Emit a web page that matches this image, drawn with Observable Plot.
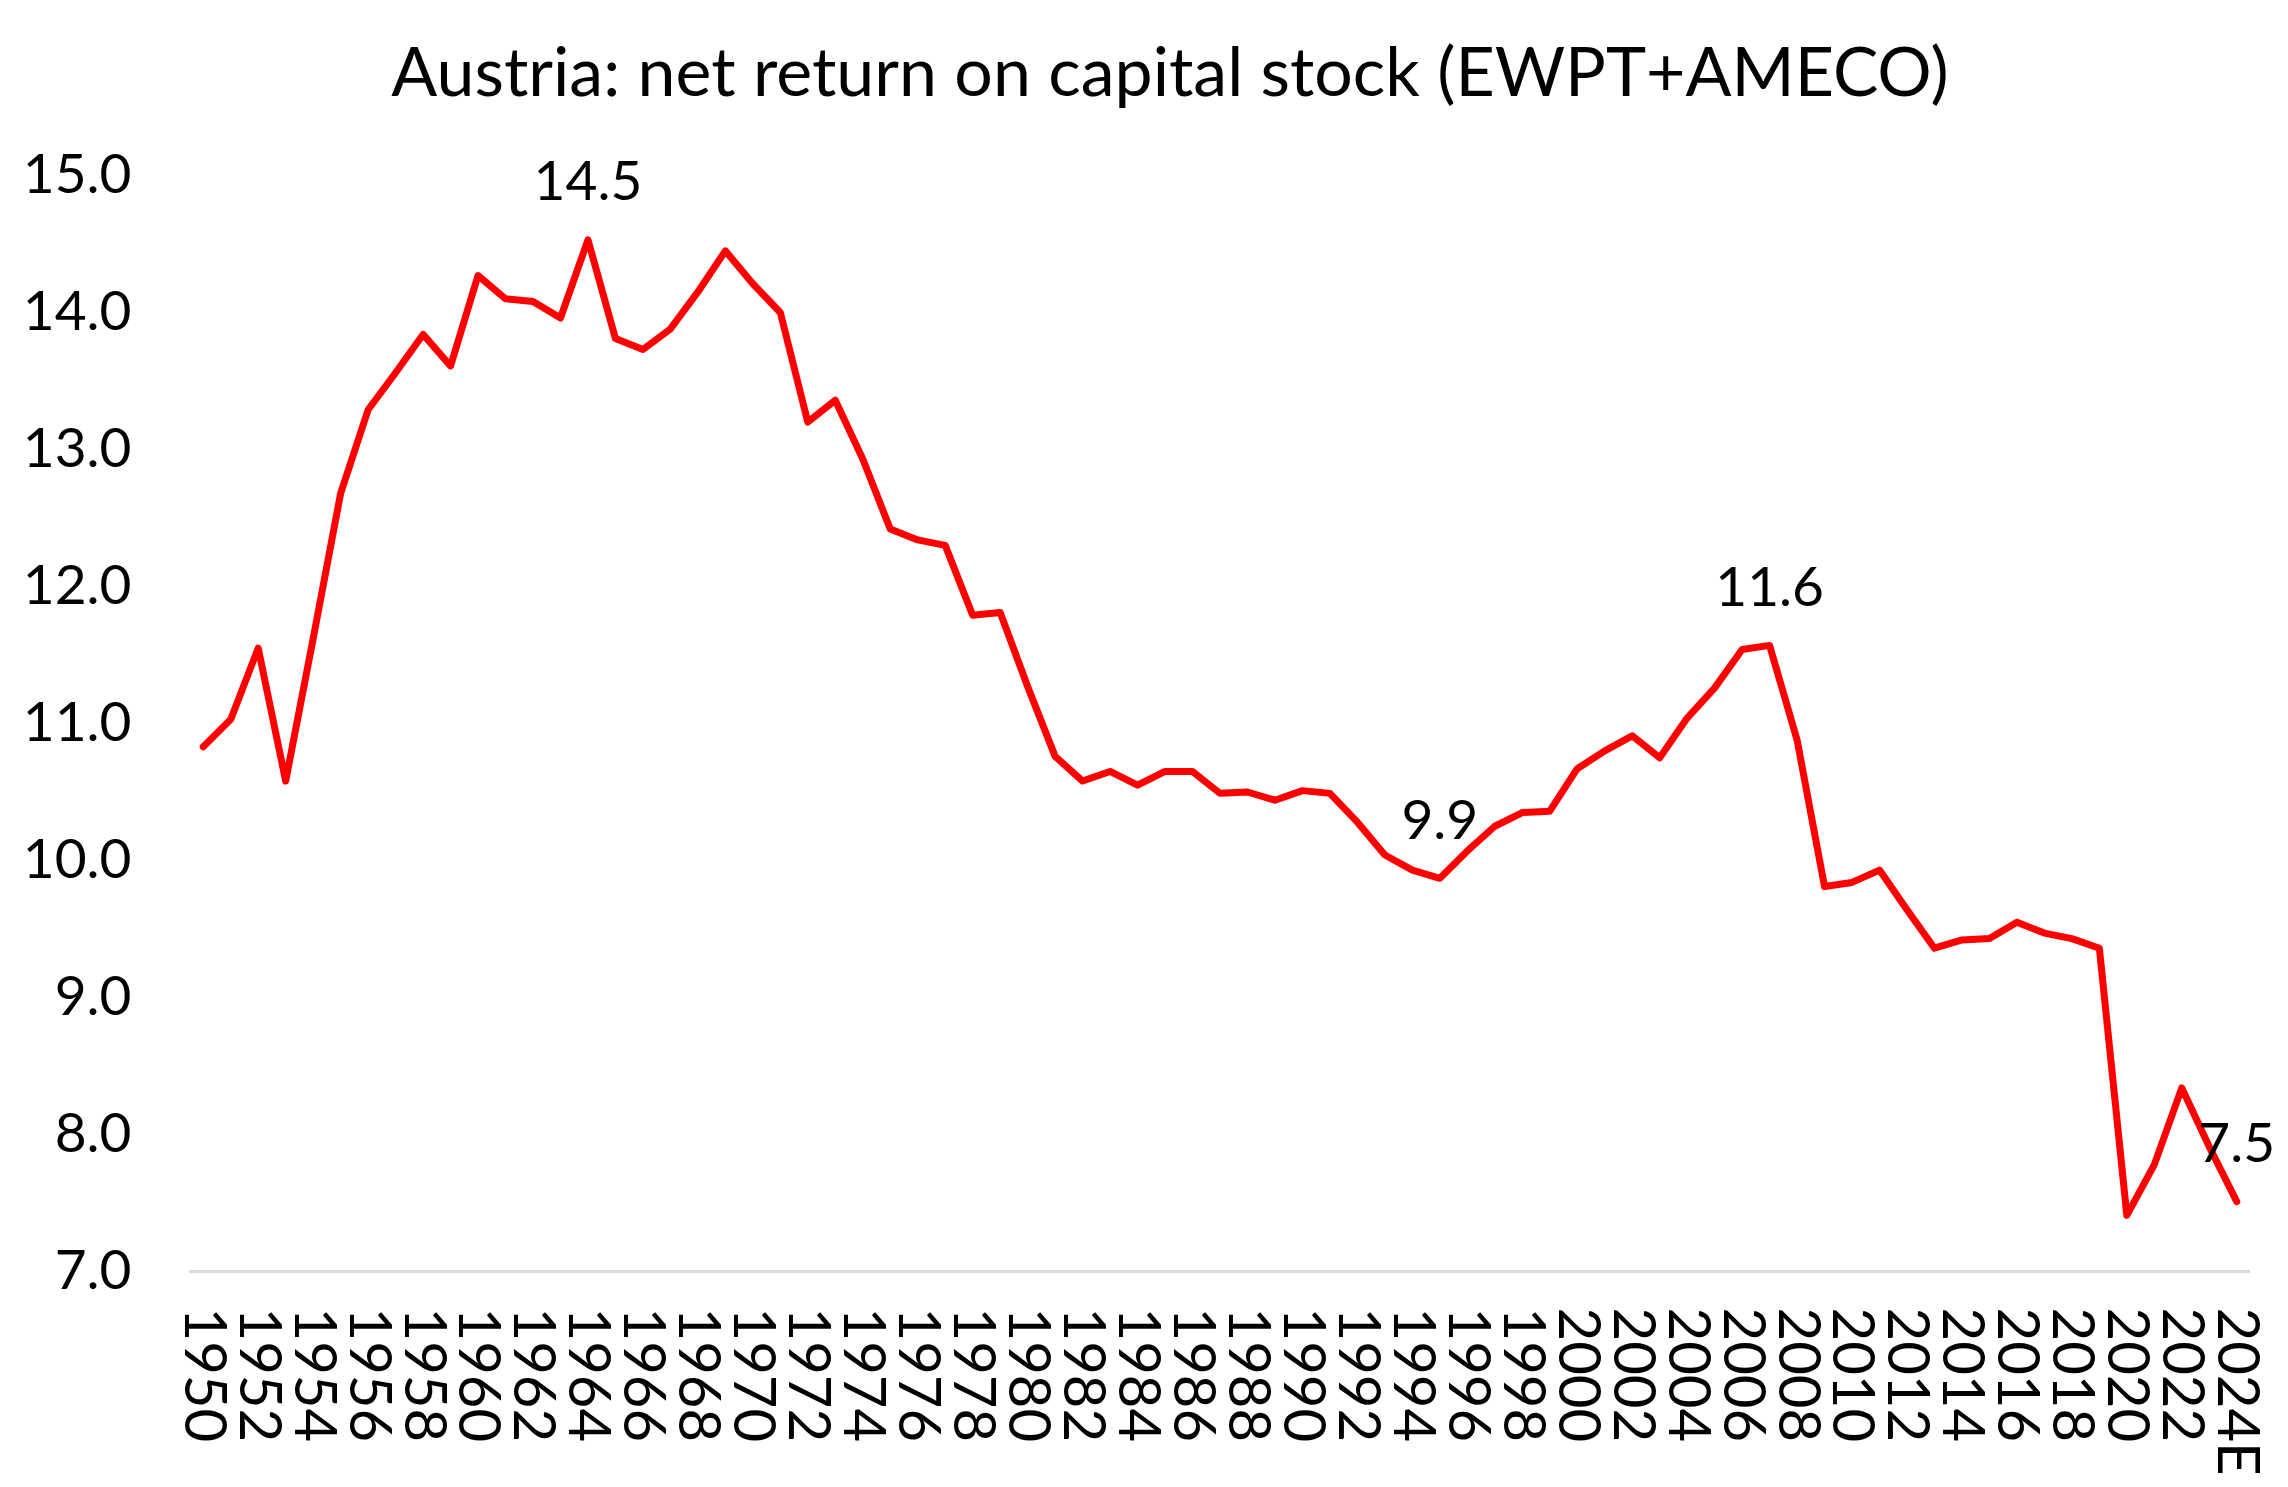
<!DOCTYPE html>
<html><head><meta charset="utf-8">
<script src="https://cdn.jsdelivr.net/npm/d3@7"></script>
<script src="https://cdn.jsdelivr.net/npm/@observablehq/plot@0.6"></script>
<style>
html,body{margin:0;padding:0;background:#fff;}
#title{height:140px;line-height:140px;font-family:Lato,sans-serif;font-size:68px;text-align:center;padding-left:52px;box-sizing:border-box;width:2288px;color:#000;white-space:nowrap;}
</style></head><body>
<div id="title">Austria: net return on capital stock (EWPT+AMECO)</div>
<div id="chart"></div>
<script>
const years = ["1950","1951","1952","1953","1954","1955","1956","1957","1958","1959",
  "1960","1961","1962","1963","1964","1965","1966","1967","1968","1969",
  "1970","1971","1972","1973","1974","1975","1976","1977","1978","1979",
  "1980","1981","1982","1983","1984","1985","1986","1987","1988","1989",
  "1990","1991","1992","1993","1994","1995","1996","1997","1998","1999",
  "2000","2001","2002","2003","2004","2005","2006","2007","2008","2009",
  "2010","2011","2012","2013","2014","2015","2016","2017","2018","2019",
  "2020","2021","2022","2023","2024E"];
const values = [10.83,11.03,11.55,10.58,11.62,12.68,13.29,13.56,13.84,13.61,
  14.27,14.10,14.08,13.96,14.53,13.81,13.73,13.88,14.15,14.45,
  14.21,14.00,13.20,13.36,12.93,12.42,12.34,12.30,11.79,11.81,
  11.27,10.76,10.58,10.65,10.55,10.65,10.65,10.49,10.50,10.44,
  10.51,10.49,10.28,10.04,9.93,9.87,10.07,10.25,10.35,10.36,
  10.67,10.80,10.91,10.75,11.04,11.26,11.54,11.57,10.88,9.81,
  9.84,9.93,9.64,9.36,9.42,9.43,9.55,9.47,9.43,9.36,
  7.41,7.78,8.34,7.91,7.51];
const xTickLabels = ["1950","1952","1954","1956","1958","1960","1962","1964","1966","1968",
  "1970","1972","1974","1976","1978","1980","1982","1984","1986","1988",
  "1990","1992","1994","1996","1998","2000","2002","2004","2006","2008",
  "2010","2012","2014","2016","2018","2020","2022","2024E"];
const yTicks = [7,8,9,10,11,12,13,14,15];
const labelledYears = ["1964","1995","2007","2024E"];

const data = years.map((year, i) => ({year, value: values[i]}));

const chart = Plot.plot({
  width: 2288, height: 1347,
  marginTop: 35, marginBottom: 216, marginLeft: 189, marginRight: 38,
  style: {fontFamily: "Lato, sans-serif", background: "#fff", color: "#000"},
  x: {type: "point", domain: years, padding: 0.5},
  y: {domain: [7, 15]},
  marks: [
    Plot.ruleY([7], {stroke: "#d9d9d9", strokeWidth: 3}),
    Plot.axisY({ticks: yTicks, tickFormat: d3.format(".1f"), tickSize: 0, tickPadding: 58, fontSize: 55, label: null}),
    Plot.axisX({ticks: xTickLabels, tickRotate: 90, tickSize: 0, tickPadding: 36, fontSize: 58, label: null}),
    Plot.line(data, {x: "year", y: "value", stroke: "#ff0000", strokeWidth: 7, strokeLinejoin: "round"}),
    Plot.text(data.filter(d => labelledYears.includes(d.year)), {x: "year", y: "value", text: d => d.value.toFixed(1), dy: -57, fontSize: 55, fill: "#000"})
  ]
});
document.getElementById("chart").appendChild(chart);
</script>
</body></html>
